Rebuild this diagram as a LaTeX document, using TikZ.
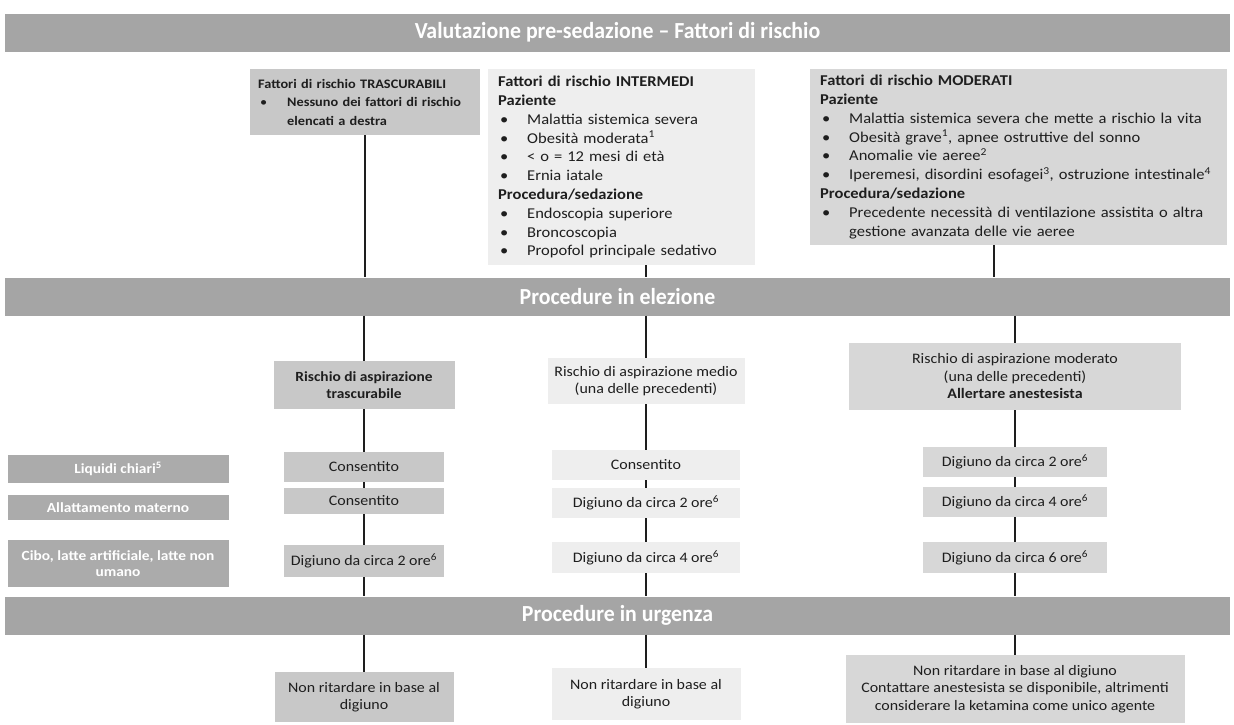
\documentclass[tikz,border=0pt]{standalone}
\usepackage{fontspec}
\setmainfont{Carlito}[FakeStretch=1.1]
\newfontfamily\fasciafont{Carlito}[FakeStretch=0.95]
\usetikzlibrary{positioning,calc}

\definecolor{grigioFascia}{HTML}{A5A5A5}
\definecolor{grigioScuro}{HTML}{ABABAB}
\definecolor{grigioMedio}{HTML}{C8C8C8}
\definecolor{grigioChiaro}{HTML}{EEEEEE}
\definecolor{grigioTenue}{HTML}{D7D7D7}
\definecolor{testo}{HTML}{1E1E1E}

\hyphenpenalty=10000
\exhyphenpenalty=10000

% voce di elenco puntato
\newcommand{\voce}[1]{\par\noindent\hangindent=29pt\hangafter=1\makebox[29pt][l]{\hspace{2pt}\textbullet}#1\par}

\begin{document}
\begin{tikzpicture}[x=1pt,y=-1pt,
  fascia/.style={fill=grigioFascia, minimum width=1225pt, minimum height=38pt, inner sep=0pt, text=white, font=\fasciafont\fontsize{23}{26}\selectfont\bfseries},
  rischio/.style={anchor=north west, align=left, inner xsep=10pt, inner ysep=6pt, text=testo, font=\fontsize{15}{18.8}\selectfont},
  casella/.style={align=center, inner sep=0pt, text=testo, font=\fontsize{14.5}{17.5}\selectfont},
  alimento/.style={casella, fill=grigioScuro, text=white, font=\fontsize{14}{16.5}\selectfont\bfseries, minimum width=221pt},
  linea/.style={line width=1.8pt, draw=testo}]

\useasboundingbox (0,0) rectangle (1234,724);

% Fasce
\node[fascia] (f1) at (617.5,32.5) {Valutazione pre-sedazione – Fattori di rischio};
\node[fascia] (f2) at (617.5,296.5) {Procedure in elezione};
\node[fascia] (f3) at (617.5,615.5) {Procedure in urgenza};

% Fattori di rischio
\node[rischio, fill=grigioMedio, text width=214pt, inner xsep=8pt, minimum height=66pt, font=\fontsize{13}{18.5}\selectfont] (t1) at (250,69)
  {\textbf{Fattori di rischio TRASCURABILI}\voce{\textbf{Nessuno dei fattori di rischio elencati a destra}}};
\node[rischio, fill=grigioChiaro, text width=247pt, minimum height=196pt] (t2) at (488,69)
  {\textbf{Fattori di rischio INTERMEDI}\par\textbf{Paziente}
   \voce{Malattia sistemica severa}
   \voce{Obesità moderata\textsuperscript{1}}
   \voce{< o = 12 mesi di età}
   \voce{Ernia iatale}
   \textbf{Procedura/sedazione}
   \voce{Endoscopia superiore}
   \voce{Broncoscopia}
   \voce{Propofol principale sedativo}};
\node[rischio, fill=grigioTenue, text width=397pt, minimum height=173pt] (t3) at (810,69)
  {\textbf{Fattori di rischio MODERATI}\par\textbf{Paziente}
   \voce{Malattia sistemica severa che mette a rischio la vita}
   \voce{Obesità grave\textsuperscript{1}, apnee ostruttive del sonno}
   \voce{Anomalie vie aeree\textsuperscript{2}}
   \voce{Iperemesi, disordini esofagei\textsuperscript{3}, ostruzione intestinale\textsuperscript{4}}
   \textbf{Procedura/sedazione}
   \voce{Precedente necessità di ventilazione assistita o altra gestione avanzata delle vie aeree}};

% Rischio di aspirazione
\node[casella, fill=grigioMedio, minimum width=181pt, minimum height=48pt, font=\fontsize{14}{17}\selectfont\bfseries] (a1) at (364,385) {Rischio di aspirazione\\trascurabile};
\node[casella, fill=grigioChiaro, minimum width=197pt, minimum height=46pt] (a2) at (646,381) {Rischio di aspirazione medio\\(una delle precedenti)};
\node[casella, fill=grigioTenue, minimum width=332pt, minimum height=67pt] (a3) at (1015,376.5) {Rischio di aspirazione moderato\\(una delle precedenti)\\\textbf{Allertare anestesista}};

% Alimenti
\node[alimento, minimum height=28pt] (l1) at (118,469) {Liquidi chiari\textsuperscript{5}};
\node[alimento, minimum height=25pt] (l2) at (118,507.5) {Allattamento materno};
\node[alimento, minimum height=47pt] (l3) at (118,563.5) {Cibo, latte artificiale, latte non\\umano};

% Digiuno
\node[casella, fill=grigioMedio, minimum width=160pt, minimum height=30pt] (c11) at (364,467) {Consentito};
\node[casella, fill=grigioMedio, minimum width=160pt, minimum height=26pt] (c12) at (364,501) {Consentito};
\node[casella, fill=grigioMedio, minimum width=160pt, minimum height=32pt] (c13) at (364,561) {Digiuno da circa 2 ore\textsuperscript{6}};
\node[casella, fill=grigioChiaro, minimum width=188pt, minimum height=30pt] (c21) at (646,465) {Consentito};
\node[casella, fill=grigioChiaro, minimum width=188pt, minimum height=30pt] (c22) at (646,503) {Digiuno da circa 2 ore\textsuperscript{6}};
\node[casella, fill=grigioChiaro, minimum width=188pt, minimum height=31pt] (c23) at (646,557.5) {Digiuno da circa 4 ore\textsuperscript{6}};
\node[casella, fill=grigioTenue, minimum width=184pt, minimum height=30pt] (c31) at (1015,462) {Digiuno da circa 2 ore\textsuperscript{6}};
\node[casella, fill=grigioTenue, minimum width=184pt, minimum height=30pt] (c32) at (1015,502) {Digiuno da circa 4 ore\textsuperscript{6}};
\node[casella, fill=grigioTenue, minimum width=184pt, minimum height=31pt] (c33) at (1015,557.5) {Digiuno da circa 6 ore\textsuperscript{6}};

% Urgenza
\node[casella, fill=grigioMedio, minimum width=179pt, minimum height=50pt] (u1) at (364,697) {Non ritardare in base al\\digiuno};
\node[casella, fill=grigioChiaro, minimum width=189pt, minimum height=52pt] (u2) at (646,694) {Non ritardare in base al\\digiuno};
\node[casella, fill=grigioTenue, minimum width=339pt, minimum height=68pt] (u3) at (1015,689) {Non ritardare in base al digiuno\\Contattare anestesista se disponibile, altrimenti\\considerare la ketamina come unico agente};

% Collegamenti
\draw[linea] (t1.south) -- (t1.south |- f2.north);
\draw[linea] (t2.south -| a2.north) -- (f2.north -| a2.north);
\draw[linea] ([xshift=-25pt]t3.south) -- ([xshift=-25pt]t3.south |- f2.north);
\draw[linea] (f2.south -| a1.north) -- (a1.north);
\draw[linea] (f2.south -| a2.north) -- (a2.north);
\draw[linea] (f2.south -| a3.north) -- (a3.north);
\draw[linea] (a1) -- (c11);
\draw[linea] (c11) -- (c12);
\draw[linea] (c12) -- (c13);
\draw[linea] (c13.south) -- (c13.south |- f3.north);
\draw[linea] (a2) -- (c21);
\draw[linea] (c21) -- (c22);
\draw[linea] (c22) -- (c23);
\draw[linea] (c23.south) -- (c23.south |- f3.north);
\draw[linea] (a3) -- (c31);
\draw[linea] (c31) -- (c32);
\draw[linea] (c32) -- (c33);
\draw[linea] (c33.south) -- (c33.south |- f3.north);
\draw[linea] (f3.south -| u1.north) -- (u1.north);
\draw[linea] (f3.south -| u2.north) -- (u2.north);
\draw[linea] (f3.south -| u3.north) -- (u3.north);
\end{tikzpicture}
\end{document}
